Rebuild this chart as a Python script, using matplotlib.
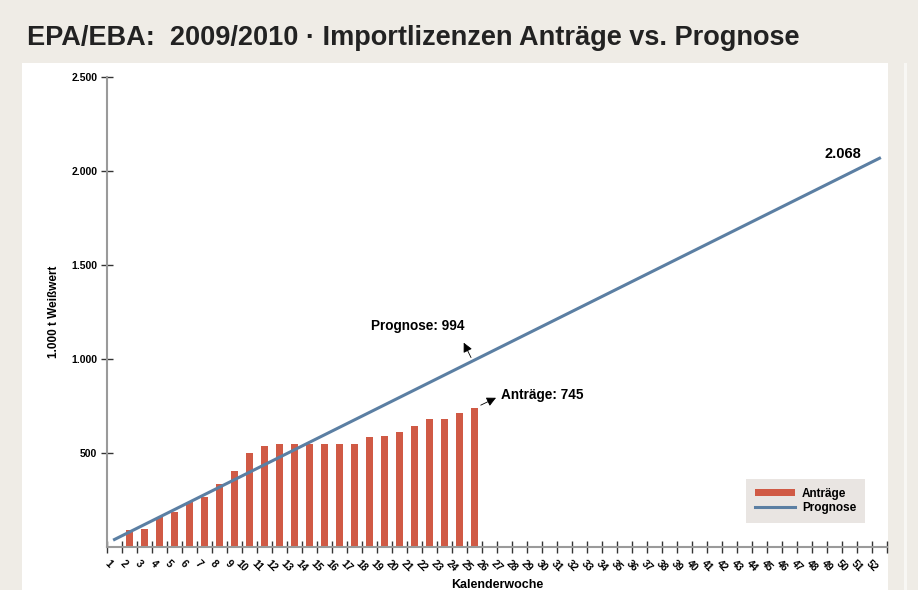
import numpy as np
import matplotlib
matplotlib.use("Agg")
import matplotlib.pyplot as plt
import matplotlib.patches as mpatches
from matplotlib.ticker import FuncFormatter

font = ["Liberation Sans", "DejaVu Sans"]
plt.rcParams['font.family'] = font

# data
wochen = list(range(1, 53))
antrag_wochen = list(range(2, 26))
antrag_werte = [90, 96, 161, 188, 238, 268, 333, 406, 498, 535, 548, 550,
                550, 550, 550, 550, 585, 592, 613, 642, 681, 683, 713, 738, 745]
antrag_werte = antrag_werte[:len(antrag_wochen)]
prognose_wochen = [1, 52]
prognose_werte = [40, 2068]
y_ticks = [500, 1000, 1500, 2000, 2500]

bg = '#efece6'
rot = '#d05a45'
blau = '#5b7fa3'

fig = plt.figure(figsize=(9.18, 5.90), dpi=100)
fig.patch.set_facecolor(bg)

# white panel
panel = mpatches.Rectangle((22/918, 0), (888-22)/918, (590-63)/590,
                           transform=fig.transFigure, facecolor='white',
                           edgecolor='none', zorder=-5)
fig.patches.append(panel)
strip = mpatches.Rectangle((904/918, 0), 3/918, (590-63)/590,
                           transform=fig.transFigure, facecolor='#f8f7f4',
                           edgecolor='none', zorder=-5)
fig.patches.append(strip)

fig.text(27/918, 1-38/590, "EPA/EBA:  2009/2010 · Importlizenzen Anträge vs. Prognose",
         fontsize=19.5, fontweight='bold', color='#222222', ha='left', va='center')

ax = fig.add_axes([107/918, 43/590, 780/918, 470/590])
ax.set_facecolor('none')
ax.set_zorder(2)

bars = ax.bar(antrag_wochen, antrag_werte, width=0.47, color=rot, label='Anträge', zorder=2)
linie, = ax.plot(prognose_wochen, prognose_werte, color=blau, lw=2.2, label='Prognose', zorder=3)

ax.set_xlim(0.5, 52.5)
ax.set_ylim(0, 2500)

for s in ['top', 'right']:
    ax.spines[s].set_visible(False)
for s in ['left', 'bottom']:
    ax.spines[s].set_color('#9a9a9a')
    ax.spines[s].set_linewidth(1.5)

ax.set_yticks(y_ticks)
ax.yaxis.set_major_formatter(FuncFormatter(lambda v, p: f"{int(v):,}".replace(',', '.')))
ax.tick_params(axis='y', direction='inout', length=8, width=1, color='#333333',
               labelsize=7.5, pad=3)
for lab in ax.get_yticklabels():
    lab.set_fontweight('bold')

ax.set_xticks(np.arange(0.5, 53, 1))
ax.set_xticklabels([])
ax.tick_params(axis='x', which='major', direction='inout', length=8, width=1,
               color='#333333')
for i, t in enumerate(ax.xaxis.get_major_ticks()):
    if i > 36:
        t.tick1line.set_color('#888888')
ax.set_xticks(wochen, minor=True)
ax.set_xticklabels([str(w) for w in wochen], minor=True, rotation=-45,
                   ha='right', va='top', fontsize=7.5, fontweight='bold')
ax.tick_params(axis='x', which='minor', length=0, pad=8)

ax.set_ylabel("1.000 t Weißwert", fontsize=8.5, fontweight='bold', labelpad=8)
ax.set_xlabel("Kalenderwoche", fontsize=9, fontweight='bold', labelpad=4)

# annotations
prog_25 = prognose_werte[0] + (prognose_werte[1] - prognose_werte[0]) * 24 / 51
ax.text(21.2, 1175, "Prognose: 994", fontsize=9.8, fontweight='bold',
        ha='center', va='center')
ax.annotate("", xy=(24.2, 1100), xytext=(24.85, prog_25),
            arrowprops=dict(arrowstyle='-|>', color='black', lw=0.6, mutation_scale=14))
ax.text(26.8, 810, "Anträge: 745", fontsize=9.8, fontweight='bold',
        ha='left', va='center')
ax.annotate("", xy=(26.6, 800), xytext=(25.25, antrag_werte[-1] + 10),
            arrowprops=dict(arrowstyle='-|>', color='black', lw=0.6, mutation_scale=14))
ax.text(50.8, 2090, "2.068", fontsize=10.5, fontweight='bold',
        ha='right', va='center')

leg = ax.legend([bars, linie], ['Anträge', 'Prognose'],
                loc='lower right', bbox_to_anchor=(758/780, 24/470),
                frameon=True, fancybox=False,
                prop={'weight': 'bold', 'size': 8.5}, handlelength=3.4,
                handleheight=0.5, borderpad=0.75, labelspacing=0.2,
                handletextpad=0.6, borderaxespad=0)
leg.get_frame().set_facecolor('#e9e5e2')
leg.get_frame().set_edgecolor('none')
leg.get_frame().set_alpha(1)
# reference box has extra room on the right
leg._legend_box.align = 'left'
fr = leg.get_frame()

fig.canvas.draw()
bb = fr.get_bbox()
fr.set_bounds(bb.x0 - 14, bb.y0, bb.width + 14, bb.height)
# shift content not needed; only widen frame to the left
fig.savefig("out.png", dpi=100, facecolor=fig.get_facecolor())
